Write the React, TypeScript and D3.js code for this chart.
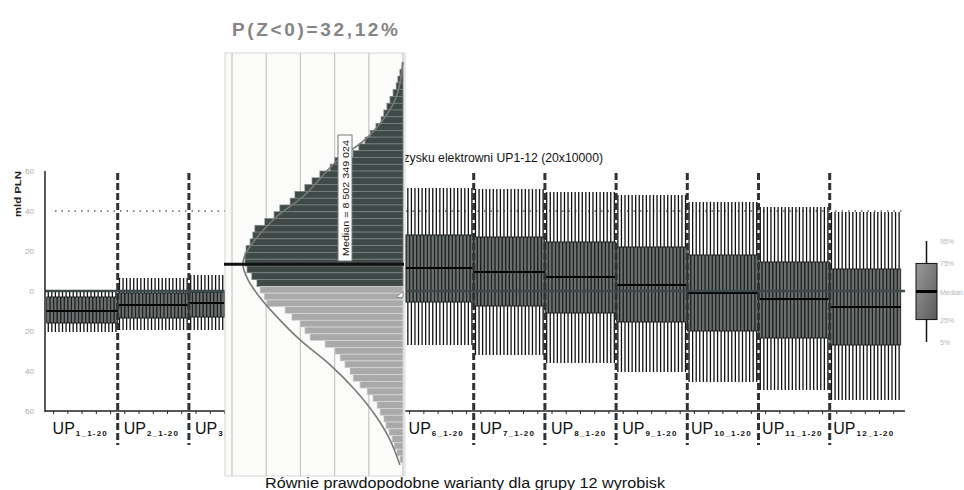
import React from 'react';
import * as d3 from 'd3';

// ---------- data ----------
const groupIds = ['1', '2', '3', '4', '5', '6', '7', '8', '9', '10', '11', '12'];
const groupSubs = ['1_1-20', '2_1-20', '3_1-20', '4_1-20', '5_1-20', '6_1-20', '7_1-20', '8_1-20', '9_1-20', '10_1-20', '11_1-20', '12_1-20'];
const q05 = [-20.5, -19.5, -19.5, -21, -24, -27, -32, -36, -40.5, -45.5, -49.5, -54.5];
const q25 = [-16, -13.5, -13, -12, -9, -5.5, -7.5, -11, -15.5, -20, -23.5, -27];
const q50 = [-10, -7, -6, -2, 5, 11.5, 9.5, 7, 3, -1, -4, -8];
const q75 = [-3, -1, -0.5, 8, 18, 28, 27, 24.5, 22, 18, 14.5, 11];
const q95 = [0.5, 6.5, 8, 20, 35, 51.5, 51, 49.5, 48, 44.5, 42, 39.5];
const boxesPerGroup = 20;

const yTicks = [60, 40, 20, 0, -20, -40, -60];
const yTickLabels = ['60', '40', '20', '0', '20', '40', '60'];
const refLine = 40;

// histogram (inset) – frequencies from the highest bin to the lowest
const histBinWidth = 2.62;
const histTopEdge = 86.46;
const histFreq = [0.03, 0.09, 0.15, 0.2, 0.29, 0.38, 0.47, 0.56, 0.64, 0.79, 0.96, 1.11, 1.29, 1.46, 1.99, 2.13, 2.43, 2.66, 2.87, 3.16, 3.3, 3.6, 3.77, 4.04, 4.33, 4.39, 4.47, 4.59, 4.62, 4.62, 4.56, 4.42, 4.27, 4.18, 4.06, 3.98, 3.45, 3.25, 3.01, 2.87, 2.72, 2.28, 1.99, 1.84, 1.7, 1.55, 1.46, 1.26, 1.05, 0.88, 0.76, 0.67, 0.56, 0.5, 0.41, 0.32, 0.26, 0.18, 0.09];
const curveVals = [86.7, 72.0, 58.5, 47.7, 35.3, 26.4, 17.9, 12.1, 8.3, 2.5, -3.3, -11.0, -20.7, -30.3, -40.0, -49.6, -59.3, -69.0];
const curveDens = [0, 0.23, 0.96, 1.99, 2.87, 3.74, 4.33, 4.62, 4.68, 4.53, 4.24, 3.74, 3.01, 2.13, 1.4, 0.82, 0.38, 0.09];
const medianValue = 8.5;
const medianText = 'Median = 8 502 349 024';
const probText = 'P(Z<0)=32,12%';
const histGrid = [0, 1, 2, 3, 4, 5];

const legendLabels = ['95%', '75%', 'Median', '25%', '5%'];
const legendVals = [95, 75, 50, 25, 5];

const titleText = 'Rozkład zysku elektrowni UP1-12 (20x10000)';
const xTitle = 'Równie prawdopodobne warianty dla grupy 12 wyrobisk';
const yTitle = 'mld PLN';

export default function App() {
  const y = d3.scaleLinear().domain([-60, 60]).range([411, 171]);
  const xG = d3.scaleBand<string>().domain(groupIds).range([46.5, 900.9]);
  const gw = xG.bandwidth();
  const xB = d3.scaleBand<number>().domain(d3.range(boxesPerGroup)).range([0, gw]);
  const bw = xB.bandwidth();

  const hy = d3.scaleLinear().domain([-69, 85.5]).range([465, 65]);
  const hx = d3.scaleLinear().domain([0, 5]).range([403, 232]);
  const curve = d3.line<number>()
    .x((_, i) => hx(curveDens[i]))
    .y((v) => hy(v))
    .curve(d3.curveCatmullRom)(curveVals) || '';

  const legY = d3.scaleLinear().domain([5, 95]).range([342, 241]);
  const legBox = { x: 916, w: 21 };

  const boundaries = groupIds.slice(1).map((g) => xG(g) as number);
  const minorTicks: number[] = [];
  groupIds.forEach((g) => {
    for (let k = 0; k < 5; k++) minorTicks.push((xG(g) as number) + (k + 0.5) * gw / 5);
  });

  const medY = hy(medianValue);

  return (
    <svg width={964} height={490} style={{ position: 'absolute', left: 0, top: 0, background: '#fff' }}
      fontFamily="Liberation Sans, Arial, sans-serif">
      <defs>
        <linearGradient id="legGrad" x1="0" y1="0" x2="1" y2="1">
          <stop offset="0" stopColor="#9a9a9a" />
          <stop offset="1" stopColor="#5a5a5a" />
        </linearGradient>
      </defs>
      <rect x={0} y={0} width={964} height={490} fill="#fff" />

      {/* main title (start hidden by the inset) */}
      <text x={356} y={162} fontSize={12} fill="#111" textLength={247} lengthAdjust="spacingAndGlyphs">{titleText}</text>

      {/* y-axis title */}
      <text transform={`translate(21,194) rotate(-90)`} fontSize={9} fontWeight="bold" textAnchor="middle" fill="#222"
        textLength={46} lengthAdjust="spacingAndGlyphs">{yTitle}</text>

      {/* y tick labels */}
      {yTicks.map((t, i) => (
        <text key={'yt' + i} x={34} y={y(t) + 3} fontSize={8} textAnchor="end" fill="#aaa">{yTickLabels[i]}</text>
      ))}

      {/* dotted reference line */}
      <line x1={55} x2={905} y1={y(refLine)} y2={y(refLine)} stroke="#111" strokeWidth={1.2} strokeDasharray="1.5,5" />

      {/* box plots */}
      {groupIds.map((g, gi) => (
        <g key={'g' + g} transform={`translate(${xG(g)},0)`}>
          {d3.range(boxesPerGroup).map((j) => {
            const cx = (xB(j) as number) + bw / 2;
            return (
              <g key={j}>
                <line x1={cx} x2={cx} y1={y(q95[gi])} y2={y(q05[gi])} stroke="#111" strokeWidth={1.3} />
                <rect x={cx - bw * 0.45} width={bw * 0.9} y={y(q75[gi])} height={y(q25[gi]) - y(q75[gi])}
                  fill="#6a6f6f" stroke="#111" strokeWidth={0.8} />
                <line x1={cx - bw / 2} x2={cx + bw / 2} y1={y(q50[gi])} y2={y(q50[gi])} stroke="#000" strokeWidth={2} />
              </g>
            );
          })}
        </g>
      ))}

      {/* zero line */}
      <line x1={45} x2={905} y1={y(0)} y2={y(0)} stroke="#3e4a4a" strokeWidth={2.5} />

      {/* group dividers */}
      {boundaries.map((bx, i) => (
        <line key={'d' + i} x1={bx} x2={bx} y1={173} y2={445} stroke="#2c3434" strokeWidth={3} strokeDasharray="7,3" />
      ))}

      {/* axes */}
      <line x1={45} x2={45} y1={171} y2={412} stroke="#222" strokeWidth={1.5} />
      <line x1={45} x2={905} y1={411} y2={411} stroke="#222" strokeWidth={1.5} />
      {minorTicks.map((tx, i) => (
        <line key={'mt' + i} x1={tx} x2={tx} y1={411} y2={414} stroke="#222" strokeWidth={1} />
      ))}

      {/* group labels */}
      {groupIds.map((g, gi) => {
        const total = 22 + (groupSubs[gi].length > 6 ? 40 : 35);
        const x0 = (xG(g) as number) + gw / 2 - 1 - total / 2;
        return (
          <text key={'lab' + g} x={x0} y={434} fill="#111">
            <tspan fontSize={16}>UP</tspan>
            <tspan fontSize={8} fontWeight="bold" dy={2} dx={1} letterSpacing={1.2}>{groupSubs[gi]}</tspan>
          </text>
        );
      })}

      {/* x-axis title */}
      <text x={465} y={488} fontSize={14} textAnchor="middle" fill="#111" textLength={400} lengthAdjust="spacingAndGlyphs">{xTitle}</text>

      {/* ---------- inset histogram panel ---------- */}
      <g>
        <rect x={225} y={53} width={180} height={423} fill="#fbfbf9" stroke="#d6d6d6" strokeWidth={1} />
        {histGrid.map((v) => (
          <line key={'hg' + v} x1={hx(v)} x2={hx(v)} y1={53} y2={476} stroke="#c6c6c6" strokeWidth={1.2} />
        ))}
        {histFreq.map((f, i) => {
          const hi = histTopEdge - i * histBinWidth;
          const lo = hi - histBinWidth;
          const dark = lo >= -0.001;
          return (
            <rect key={'hb' + i} x={hx(f)} width={403 - hx(f)} y={hy(hi)} height={hy(lo) - hy(hi)}
              fill={dark ? '#3f4947' : '#a9a9a9'} stroke={dark ? '#7d8584' : '#d9d9d9'} strokeWidth={0.7} />
          );
        })}
        <path d={curve} fill="none" stroke="#7a7a7a" strokeWidth={1.6} />
        <line x1={224} x2={404} y1={medY} y2={medY} stroke="#111" strokeWidth={3} />
        <line x1={345} x2={345} y1={261} y2={medY} stroke="#333" strokeWidth={1} />
        <rect x={338} y={135} width={14} height={126} fill="#fff" stroke="#777" strokeWidth={1} />
        <text transform={`translate(348.5,198) rotate(-90)`} fontSize={9} textAnchor="middle" fill="#111"
          textLength={116} lengthAdjust="spacingAndGlyphs">{medianText}</text>
        <path d={`M396,${hy(0) + 11} L403,${hy(0) + 5} L403,${hy(0) + 11} Z`} fill="#fff" stroke="#888" strokeWidth={1} />
      </g>

      {/* probability title */}
      <text x={315} y={36} fontSize={19} fontWeight="bold" textAnchor="middle" fill="#858585"
        textLength={166} lengthAdjust="spacing">{probText}</text>

      {/* legend */}
      <line x1={legBox.x + legBox.w / 2} x2={legBox.x + legBox.w / 2} y1={legY(95)} y2={legY(5)} stroke="#111" strokeWidth={1.5} />
      <rect x={legBox.x} width={legBox.w} y={legY(75)} height={legY(25) - legY(75)} fill="url(#legGrad)" stroke="#111" strokeWidth={1} />
      <line x1={legBox.x} x2={legBox.x + legBox.w} y1={legY(50)} y2={legY(50)} stroke="#000" strokeWidth={3} />
      {legendLabels.map((l, i) => (
        <text key={'ll' + i} x={940} y={legY(legendVals[i]) + 3} fontSize={7} fill="#b5b5b5">{l}</text>
      ))}
    </svg>
  );
}
